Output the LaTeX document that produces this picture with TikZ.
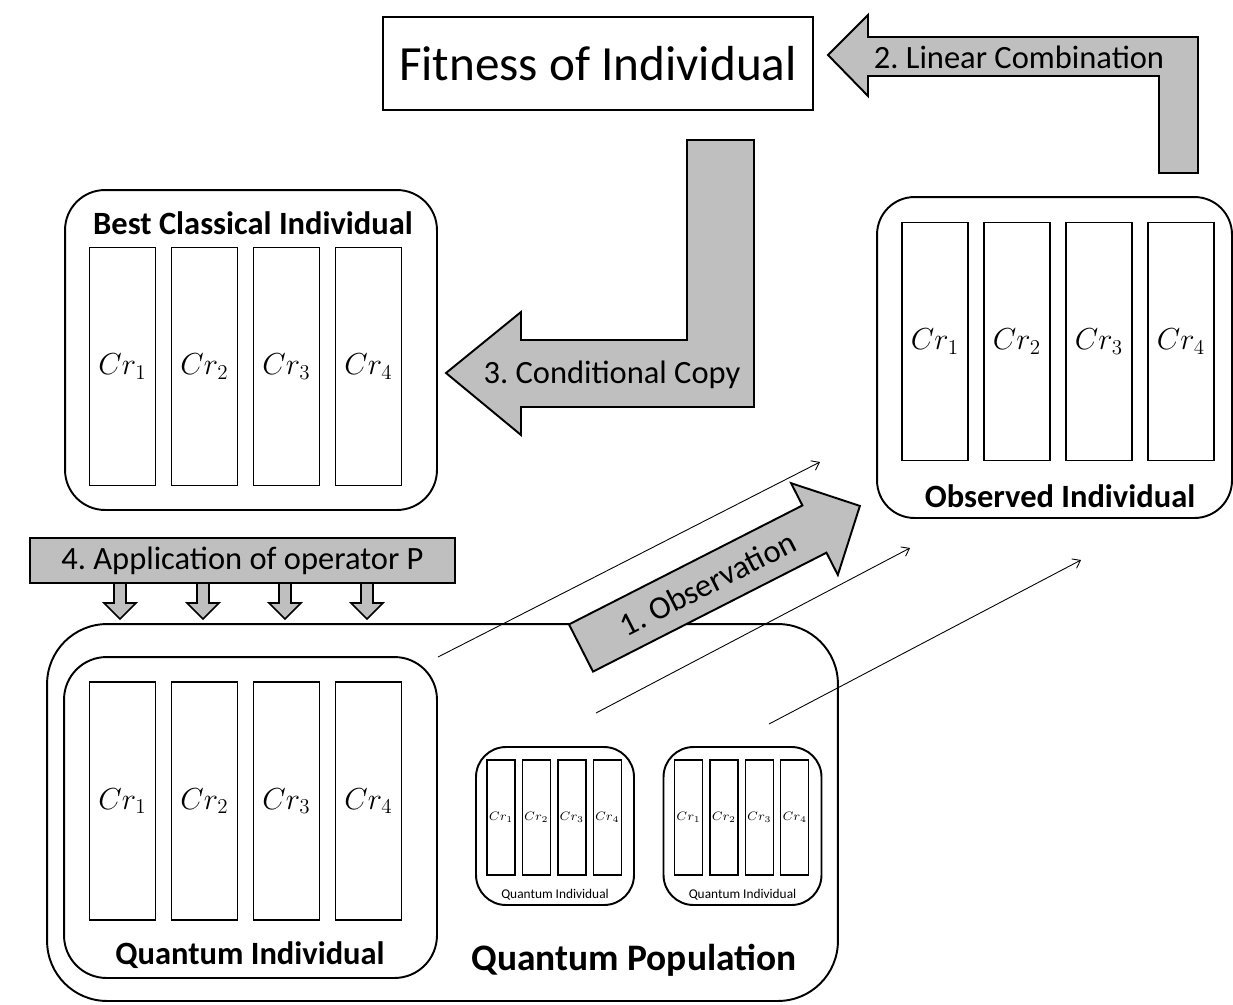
\documentclass[tikz,border=0pt]{standalone}
\usepackage{fontspec}
\setmainfont{Carlito}
\usetikzlibrary{arrows.meta, positioning, calc}

\begin{document}
\frenchspacing
\begin{tikzpicture}[x=0.02cm, y=-0.02cm,
  line width=1.1pt,
  txt/.style={font=\fontsize{18.5}{22}\selectfont},
  ttl/.style={font=\fontsize{18.5}{22}\selectfont\bfseries},
  grp/.style={draw, rounded corners=#1, inner sep=0pt},
  chrom/.style={draw, fill=white, inner sep=0pt, minimum width=1.32cm,
    minimum height=4.76cm, font=\fontsize{17}{20}\selectfont},
  chromsm/.style={draw, fill=white, inner sep=0pt, minimum width=0.56cm,
    minimum height=2.3cm, font=\fontsize{7}{8}\selectfont, line width=0.8pt},
  fat/.style={draw, fill=black!25, line width=1.1pt},
  obs/.style={-{Straight Barb[length=4pt, width=6pt]}, line width=0.5pt}
]
\useasboundingbox (0,0) rectangle (1233,1004);
% fitness
\node[draw, minimum width=8.6cm, minimum height=1.86cm,
  font=\fontsize{28}{33}\selectfont] (fit) at (598,63.5) {Fitness of Individual};
% 2. linear combination
\draw[fat] (828,55) -- (868,15) -- (868,37) -- (1198,37) -- (1198,173) -- (1159,173)
  -- (1159,76) -- (868,76) -- (868,96) -- cycle;
\node[txt] (lin) at (1019,57) {2. Linear Combination};
% 3. conditional copy
\draw[fat] (687,140) -- (754,140) -- (754,407) -- (521,407) -- (521,435) -- (446,373)
  -- (521,312) -- (521,340) -- (687,340) -- cycle;
\node[txt] (cond) at (612,375) {3. Conditional Copy};
% best classical individual
\node[grp=0.8cm, minimum width=7.44cm, minimum height=6.4cm] (best) at (251,350) {};
\node[ttl] (bestlbl) at (253,223) {Best Classical Individual};
\foreach \i in {1,...,4}{ \node[chrom] (best\i) at ({122.5+82*(\i-1)},366.5) {$Cr_{\i}$}; }
% observed individual
\node[grp=0.75cm, minimum width=7.1cm, minimum height=6.42cm] (obsv) at (1054.5,357.5) {};
\node[ttl] (obsvlbl) at (1060,496) {Observed Individual};
\foreach \i in {1,...,4}{ \node[chrom] (obsv\i) at ({935+82*(\i-1)},341.5) {$Cr_{\i}$}; }
% quantum population
\node[grp=1.2cm, minimum width=15.82cm, minimum height=7.54cm] (pop) at (442.5,812.5) {};
\node[font=\fontsize{21.3}{25}\selectfont\bfseries] (poplbl) at (634,960) {Quantum Population};
\node[grp=0.85cm, minimum width=7.46cm, minimum height=6.42cm] (qind) at (250.5,817.5) {};
\node[ttl] (qindlbl) at (250,955) {Quantum Individual};
\foreach \i in {1,...,4}{ \node[chrom] (qind\i) at ({122.5+82*(\i-1)},801) {$Cr_{\i}$}; }
\foreach \c/\n in {555/qa, 742.5/qb}{
  \node[grp=0.6cm, minimum width=3.16cm, minimum height=3.16cm] (\n) at (\c,826) {};
  \node[font=\fontsize{7.6}{9}\selectfont] (\n lbl) at (\c,895) {Quantum Individual};
  \foreach \i in {1,...,4}{ \node[chromsm] (\n\i) at ({\c-54+35.4*(\i-1)},817.5) {$Cr_{\i}$}; }
}
% 4. operator P
\node[draw, fill=black!25, minimum width=8.5cm, minimum height=0.9cm, txt] (oper)
  at (242.5,560.5) {4. Application of operator P};
\foreach \x in {120,203,285,367}{
  \draw[fat, line width=0.9pt] (\x-6,583) -- (\x+6,583) -- (\x+6,603) -- (\x+16,603)
    -- (\x,619) -- (\x-16,603) -- (\x-6,603) -- cycle; }
% 1. observation
\begin{scope}[shift={(581,648)}, rotate=27]
  \draw[fat] (0,-26.5) -- (262,-26.5) -- (262,-51.5) -- (313,0) -- (262,51.5)
    -- (262,26.5) -- (0,26.5) -- cycle;
  \node[txt, rotate=27] (obslbl) at (142,0) {1. Observation};
\end{scope}
\coordinate (o1s) at (438,657); \coordinate (o1e) at (820,462);
\coordinate (o2s) at (596,713); \coordinate (o2e) at (910,548);
\coordinate (o3s) at (769,724); \coordinate (o3e) at (1081,560);
\draw[obs] (o1s) -- (o1e);
\draw[obs] (o2s) -- (o2e);
\draw[obs] (o3s) -- (o3e);
\end{tikzpicture}
\end{document}
